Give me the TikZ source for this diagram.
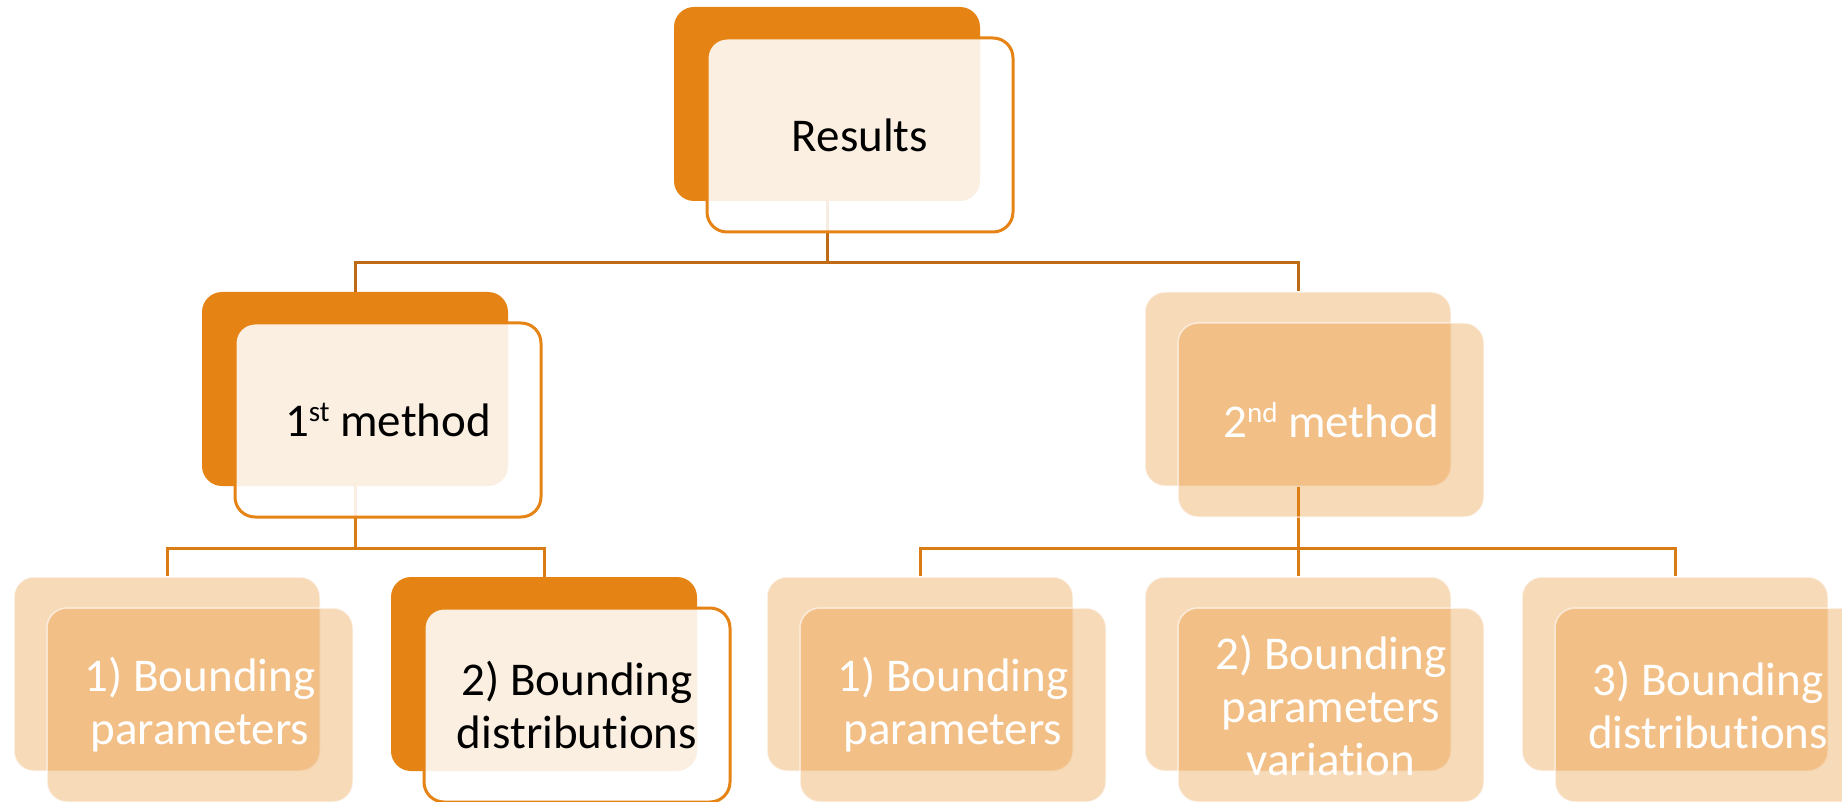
\documentclass[tikz,border=0pt]{standalone}
\usepackage{fontspec}
\setmainfont[Ligatures=NoCommon]{Carlito}
\definecolor{hiOrange}{HTML}{E58314}
\definecolor{busDark}{HTML}{BF6A14}
\definecolor{busMid}{HTML}{D97C14}
\newcommand{\ordsup}[1]{\raisebox{15pt}{\fontsize{29}{29}\selectfont #1}}
\tikzset{
  box/.style={rectangle, rounded corners=20pt, minimum width=306pt,
    minimum height=194pt, inner sep=0pt, align=center,
    font=\fontsize{47}{53}\selectfont},
  hiback/.style={box, fill=hiOrange},
  hifront/.style={box, fill=white, fill opacity=0.88, text opacity=1,
    draw=hiOrange, line width=3pt, text=black},
  loback/.style={box, fill=hiOrange, fill opacity=0.3,
    draw=white, draw opacity=0.6, line width=1.5pt},
  lofront/.style={box, fill=hiOrange, fill opacity=0.3, text opacity=1,
    draw=white, draw opacity=0.6, line width=1.5pt, text=white},
  busA/.style={draw=busDark, line width=3pt},
  busB/.style={draw=busMid, line width=3pt},
}
\begin{document}
\begin{tikzpicture}[x=1pt, y=-1pt]
  \useasboundingbox (0,0) rectangle (1842,802);
  \clip (0,0) rectangle (1842,802);

  % back panels
  \node[hiback] (resB) at (827,104) {};
  \node[hiback] (m1B)  at (355,389) {};
  \node[loback] (m2B)  at (1298,389) {};
  \node[loback] (l1B)  at (167,674) {};
  \node[hiback] (l2B)  at (544,674) {};
  \node[loback] (l3B)  at (920,674) {};
  \node[loback] (l4B)  at (1298,674) {};
  \node[loback] (l5B)  at (1675,674) {};

  % bus levels
  \coordinate (busOne) at (0,263);
  \coordinate (busTwo) at (0,548);
  \coordinate (j1) at (resB.south |- busOne);
  \coordinate (j2) at (m1B.south |- busTwo);
  \coordinate (j3) at (m2B.south |- busTwo);

  % connectors
  \draw[busA] (resB.south) -- (j1);
  \draw[busA] (m1B.north) |- (j1) -| (m2B.north);
  \draw[busB] (m1B.south) -- (j2);
  \draw[busB] (l1B.north) |- (j2) -| (l2B.north);
  \draw[busB] (m2B.south) -- (j3);
  \draw[busB] (l3B.north) |- (j3) -| (l5B.north);
  \draw[busB] (j3) -- (l4B.north);

  % front panels with labels
  \node[hifront] (resF) at (860,135) {Results};
  \node[hifront] (m1F)  at (388,420) {1\ordsup{st} method};
  \node[lofront] (m2F)  at (1331,420) {2\ordsup{nd} method};
  \node[lofront] (l1F)  at (200,705) {1) Bounding\\parameters};
  \node[hifront] (l2F)  at (577,705) {2) Bounding\\distributions};
  \node[lofront] (l3F)  at (953,705) {1) Bounding\\parameters};
  \node[lofront] (l4F)  at (1331,705) {2) Bounding\\parameters\\variation};
  \node[lofront] (l5F)  at (1708,705) {3) Bounding\\distributions};
\end{tikzpicture}
\end{document}
